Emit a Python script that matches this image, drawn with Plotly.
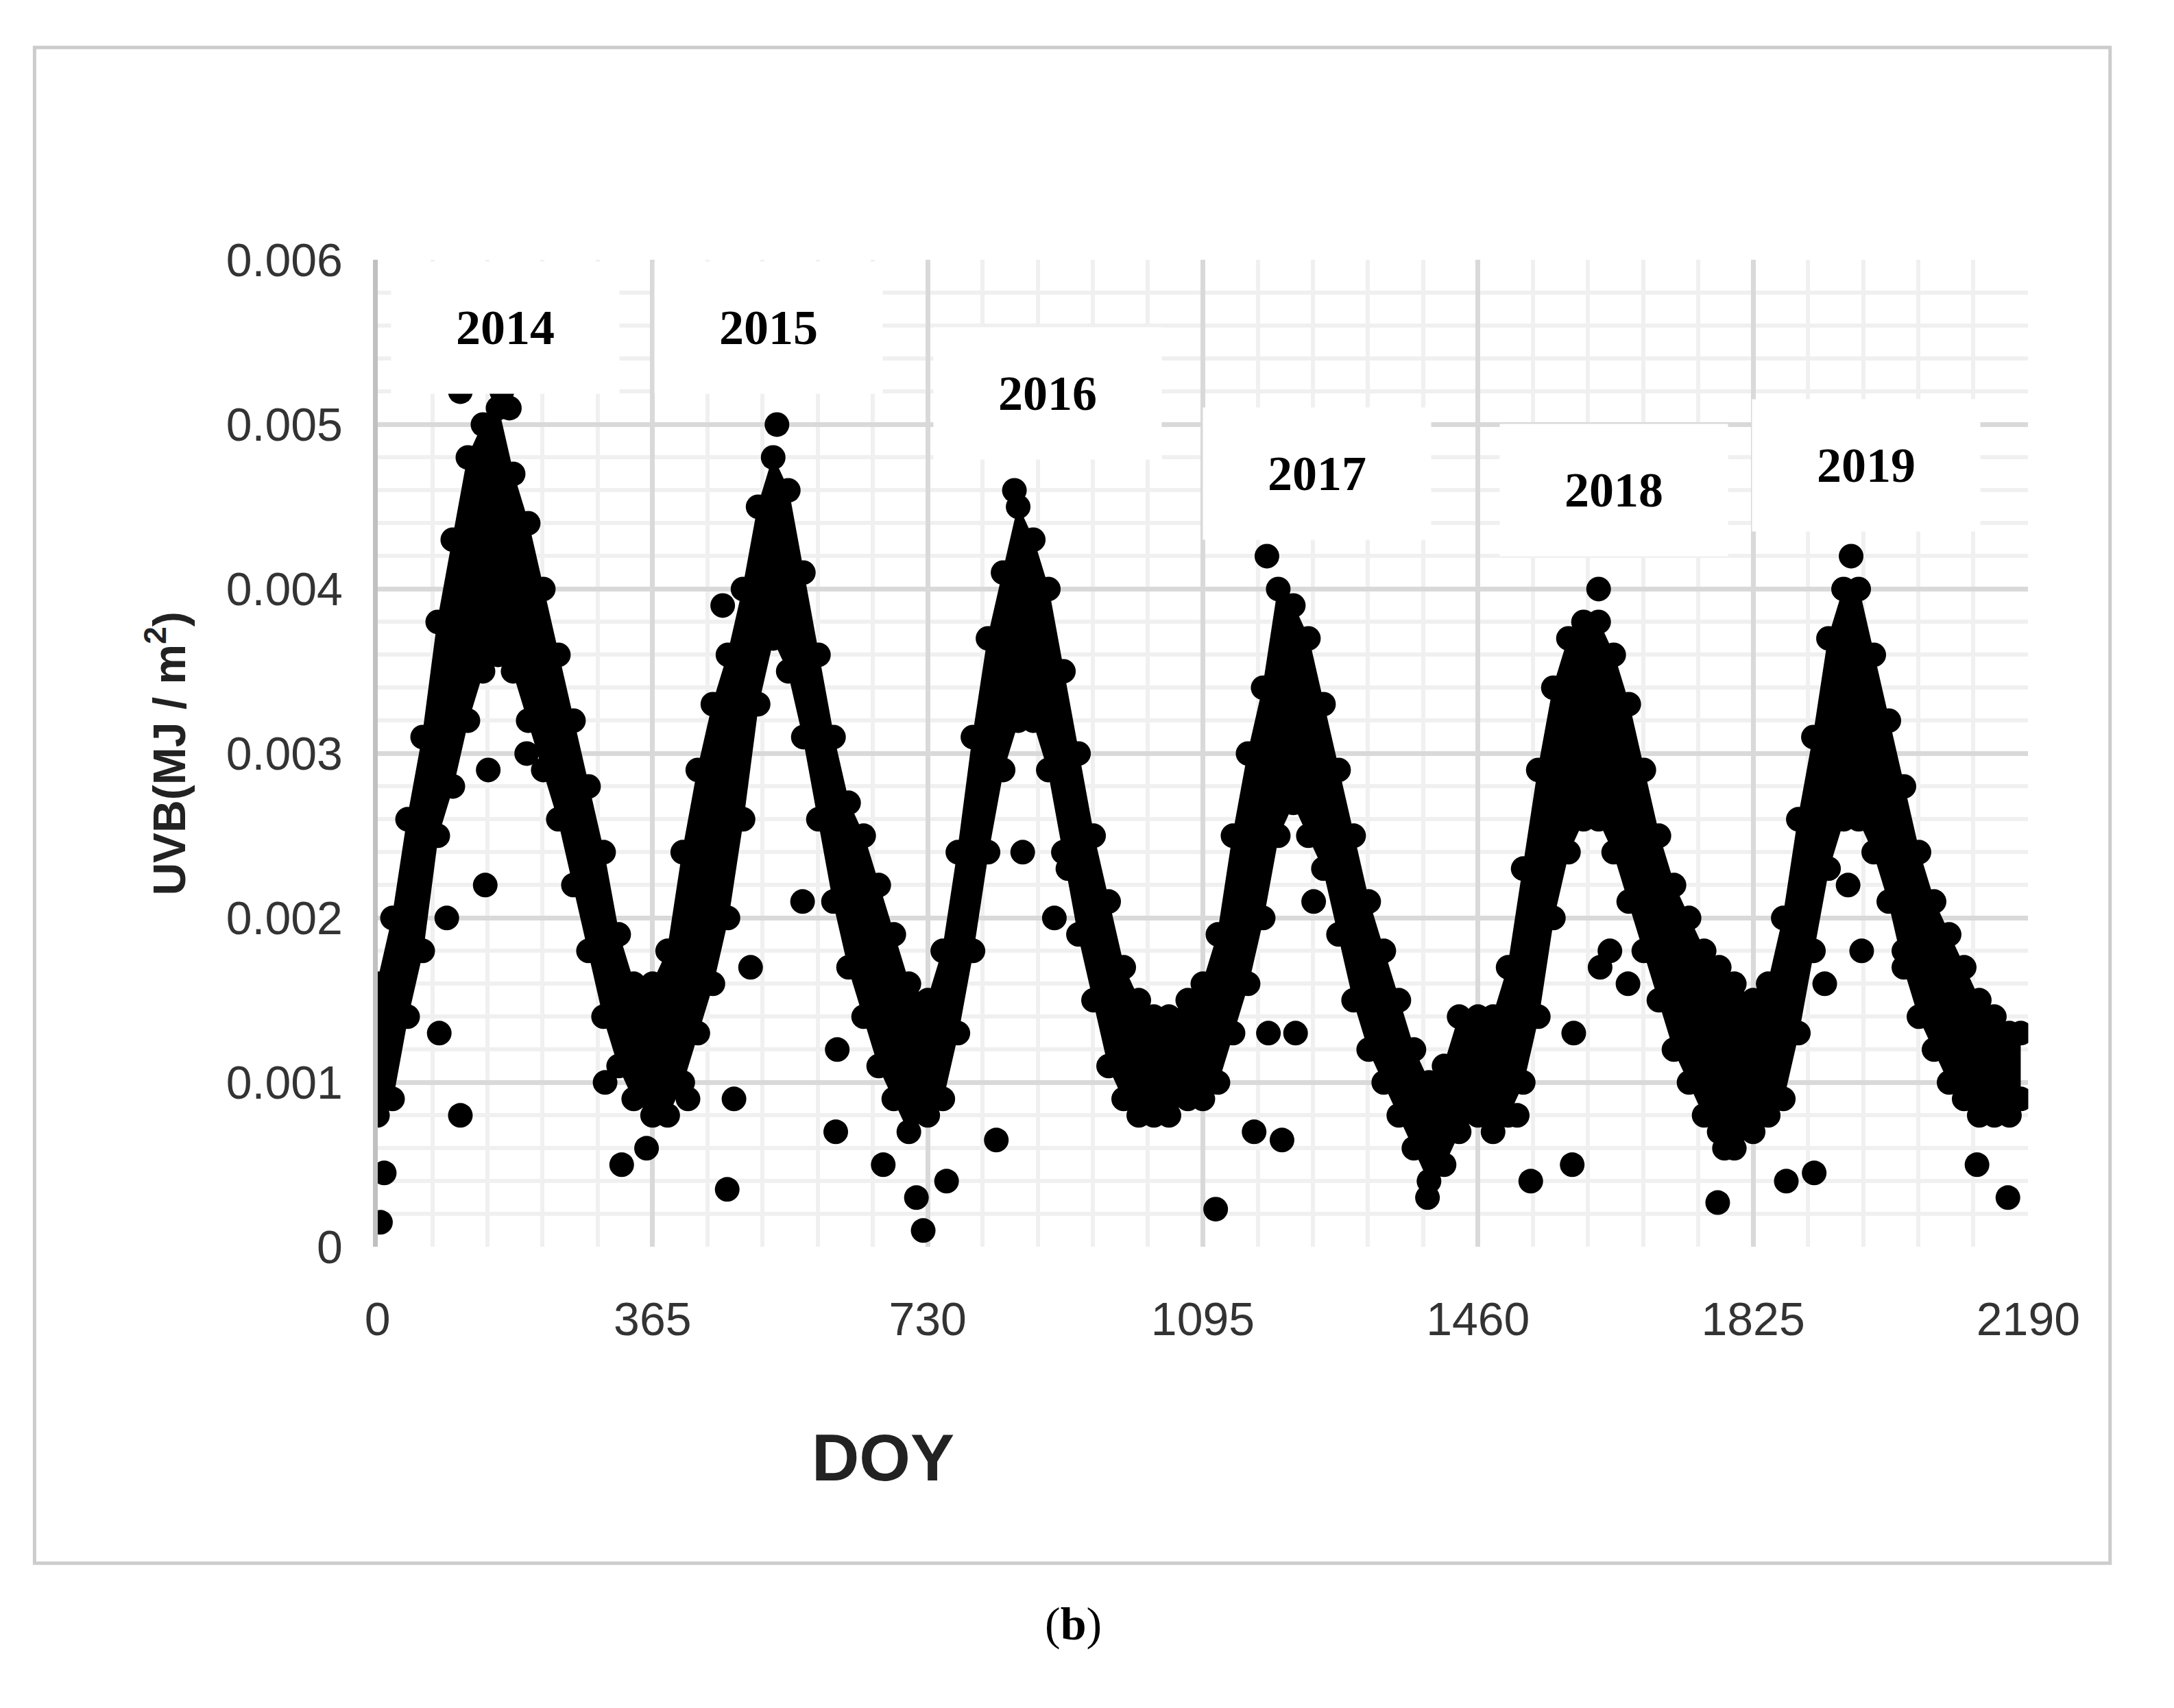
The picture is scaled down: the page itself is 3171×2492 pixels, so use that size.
import plotly.graph_objects as go

band_day = [0,20,40,60,80,100,120,140,160,180,200,220,240,260,280,300,320,340,365,
            385,405,425,445,465,485,505,525,545,565,585,605,625,645,665,685,705,730,
            750,770,790,810,830,850,870,890,910,930,950,970,990,1010,1030,1050,1075,1095,
            1115,1135,1155,1175,1195,1215,1235,1255,1275,1295,1315,1335,1355,1375,1395,1415,1435,1460,
            1480,1500,1520,1540,1560,1580,1600,1620,1640,1660,1680,1700,1720,1740,1760,1780,1800,1825,
            1845,1865,1885,1905,1925,1945,1965,1985,2005,2025,2045,2065,2085,2105,2125,2145,2165,2180]
band_low = [0.0008,0.0009,0.0014,0.0018,0.0025,0.0028,0.0032,0.0035,0.0036,0.0035,0.0032,0.0029,0.0026,0.0022,0.0018,0.0014,0.0011,0.0009,0.0008,
            0.0008,0.0010,0.0013,0.0016,0.0020,0.0026,0.0033,0.0037,0.0035,0.0031,0.0026,0.0021,0.0017,0.0014,0.0011,0.0009,0.0007,0.0008,
            0.0009,0.0013,0.0018,0.0024,0.0029,0.0032,0.0032,0.0029,0.0024,0.0019,0.0015,0.0011,0.0009,0.0008,0.0008,0.0008,0.0009,0.0009,
            0.0010,0.0013,0.0016,0.0020,0.0025,0.0027,0.0025,0.0023,0.0019,0.0015,0.0012,0.0010,0.0008,0.0006,0.0004,0.0005,0.0007,0.0008,
            0.0007,0.0008,0.0010,0.0014,0.0020,0.0024,0.0026,0.0026,0.0024,0.0021,0.0018,0.0015,0.0012,0.0010,0.0008,0.0007,0.0006,0.0007,
            0.0008,0.0009,0.0013,0.0018,0.0023,0.0026,0.0026,0.0024,0.0021,0.0017,0.0014,0.0012,0.0010,0.0009,0.0008,0.0008,0.0008,0.0009]
band_high = [0.0016,0.0020,0.0026,0.0031,0.0038,0.0043,0.0048,0.0050,0.0051,0.0047,0.0044,0.0040,0.0036,0.0032,0.0028,0.0024,0.0019,0.0016,0.0016,
             0.0018,0.0024,0.0029,0.0033,0.0036,0.0040,0.0045,0.0048,0.0046,0.0041,0.0036,0.0031,0.0027,0.0025,0.0022,0.0019,0.0016,0.0015,
             0.0018,0.0024,0.0031,0.0037,0.0041,0.0045,0.0043,0.0040,0.0035,0.0030,0.0025,0.0021,0.0017,0.0015,0.0014,0.0014,0.0015,0.0016,
             0.0019,0.0025,0.0030,0.0034,0.0040,0.0039,0.0037,0.0033,0.0029,0.0025,0.0021,0.0018,0.0015,0.0012,0.0010,0.0011,0.0014,0.0014,
             0.0014,0.0017,0.0023,0.0029,0.0034,0.0037,0.0038,0.0038,0.0036,0.0033,0.0029,0.0025,0.0022,0.0020,0.0018,0.0017,0.0016,0.0015,
             0.0016,0.0020,0.0026,0.0031,0.0037,0.0040,0.0040,0.0036,0.0032,0.0028,0.0024,0.0021,0.0019,0.0017,0.0015,0.0014,0.0013,0.0013]

out_day = [4,9,110,110,143,92,82,147,198,302,324,357,412,464,473,458,495,564,610,608,671,724,715,755,
           821,856,898,916,962,1112,1163,1182,1218,1242,1200,1393,1429,1512,1530,1585,1587,1622,1635,1659,
           1778,1787,1869,1906,1920,1951,1969,2025,2117,2122,2163,165,175,530,845,1180,1955,1620]
out_val = [0.00015,0.00045,0.0052,0.0008,0.0022,0.002,0.0013,0.0029,0.003,0.001,0.0005,0.0006,0.0009,0.00035,0.0009,0.0039,0.0017,0.0021,0.0012,0.0007,0.0005,0.0001,0.0003,0.0004,
           0.00065,0.0024,0.002,0.0023,0.0017,0.00023,0.0007,0.0013,0.0013,0.0021,0.00065,0.0003,0.0008,0.0008,0.0004,0.0005,0.0013,0.0017,0.0018,0.0016,
           0.00027,0.0006,0.0004,0.00045,0.0016,0.0022,0.0018,0.0018,0.0011,0.0005,0.0003,0.0052,0.0051,0.0050,0.0046,0.0042,0.0042,0.0040]

years = ["2014","2015","2016","2017","2018","2019"]
year_x = [170,519,889,1246,1640,1975]
year_y = [0.00559,0.00559,0.00519,0.0047,0.0046,0.00475]

x_ticks = [0,365,730,1095,1460,1825,2190]
y_ticks = [0,0.001,0.002,0.003,0.004,0.005,0.006]
y_labels = ["0","0.001","0.002","0.003","0.004","0.005","0.006"]

fig = go.Figure()
mk = dict(color="black", size=36, symbol="circle")
fig.add_trace(go.Scatter(x=band_day, y=band_low, mode="lines+markers", line=dict(color="black", width=2), marker=mk))
fig.add_trace(go.Scatter(x=band_day, y=band_high, mode="lines+markers", fill="tonexty", fillcolor="black",
                         line=dict(color="black", width=2), marker=mk))
fig.add_trace(go.Scatter(x=out_day, y=out_val, mode="markers", marker=mk))

for t, xx, yy in zip(years, year_x, year_y):
    fig.add_annotation(x=xx, y=yy, text="<b>"+t+"</b>", showarrow=False, bgcolor="white",
                       width=330, height=190, font=dict(family="Liberation Serif", size=72, color="black"))

fig.add_annotation(xref="paper", yref="paper", x=0.41, y=0.116, text="<b>DOY</b>", showarrow=False,
                   font=dict(family="Liberation Sans", size=96, color="#222"))
fig.add_annotation(xref="paper", yref="paper", x=0.5, y=0.022, text="(<b>b</b>)", showarrow=False,
                   font=dict(family="Liberation Serif", size=68, color="black"))
fig.add_shape(type="rect", xref="paper", yref="paper", x0=0.0076, x1=0.9918, y0=0.075, y1=0.9904,
              line=dict(color="#cccccc", width=5), layer="below")

fig.update_layout(
    width=3171, height=2492, margin=dict(l=0, r=0, t=0, b=0),
    paper_bgcolor="white", plot_bgcolor="white", showlegend=False,
    xaxis=dict(domain=[0.1702, 0.9530], range=[0, 2190], tickvals=x_ticks, ticktext=[str(v) for v in x_ticks],
               showgrid=True, gridcolor="#d9d9d9", gridwidth=7, zeroline=False, ticks="",
               tickfont=dict(family="Liberation Sans", size=68, color="#333"), ticklabelstandoff=60,
               minor=dict(dtick=73, showgrid=True, gridcolor="#f0f0f0", gridwidth=6), anchor="y"),
    yaxis=dict(domain=[0.266, 0.862], range=[0, 0.006], tickvals=y_ticks, ticktext=y_labels,
               showgrid=True, gridcolor="#d9d9d9", gridwidth=7, zeroline=False, showline=True,
               linecolor="#c0c0c0", linewidth=7, ticks="", ticklabelstandoff=30,
               tickfont=dict(family="Liberation Sans", size=68, color="#333"),
               minor=dict(dtick=0.0002, showgrid=True, gridcolor="#f0f0f0", gridwidth=6),
               title=dict(text="<b>UVB(MJ / m<sup>2</sup>)</b>", standoff=40,
                          font=dict(family="Liberation Sans", size=66, color="#222"))),
)
fig.write_html("out.html")
